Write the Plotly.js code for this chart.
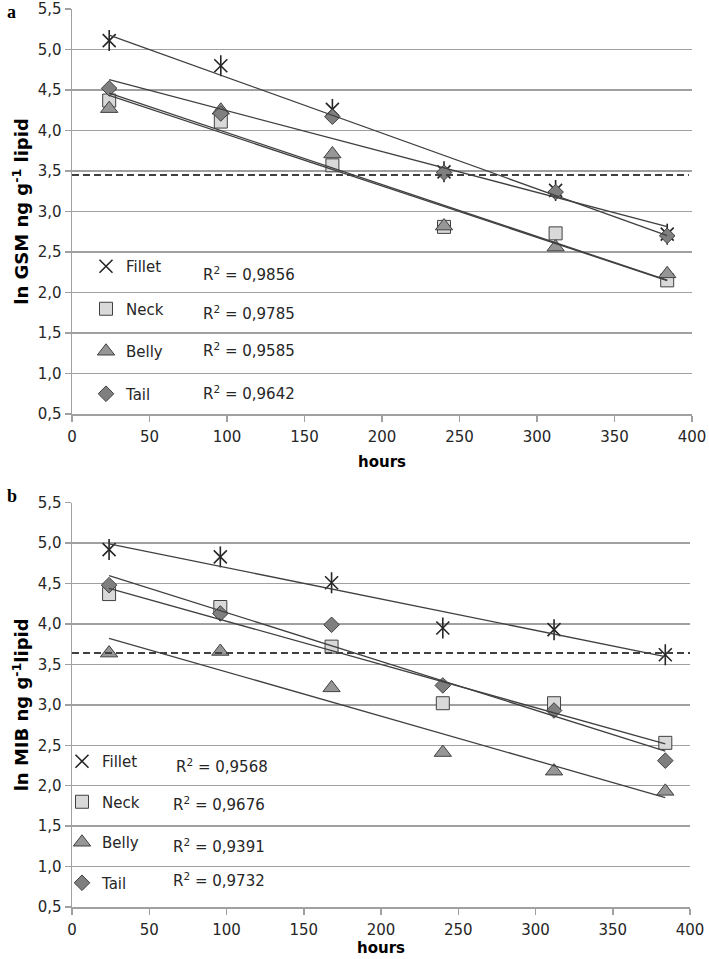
<!DOCTYPE html>
<html>
<head>
<meta charset="utf-8">
<script src="https://cdn.plot.ly/plotly-3.0.1.min.js"></script>
<style>html,body{margin:0;padding:0;background:#fff}#chart{width:709px;height:959px}</style>
</head>
<body>
<div id="chart"></div>
<script>
// ---- data ----
const hours = [24, 96, 168, 240, 312, 384];
const tissues = ["Fillet", "Neck", "Belly", "Tail"];

// panel a: ln GSM ng g-1 lipid
const gsmFillet = [5.11, 4.80, 4.26, 3.49, 3.26, 2.72];
const gsmNeck   = [4.37, 4.11, 3.57, 2.81, 2.73, 2.15];
const gsmBelly  = [4.27, 4.25, 3.71, 2.82, 2.56, 2.23];
const gsmTail   = [4.52, 4.21, 4.17, 3.48, 3.24, 2.70];
const gsmR2     = ["0,9856", "0,9785", "0,9585", "0,9642"];
const gsmThreshold = 3.45;

// panel b: ln MIB ng g-1 lipid
const mibFillet = [4.92, 4.83, 4.51, 3.95, 3.93, 3.62];
const mibNeck   = [4.37, 4.21, 3.72, 3.02, 3.02, 2.53];
const mibBelly  = [3.64, 3.66, 3.21, 2.41, 2.18, 1.93];
const mibTail   = [4.48, 4.13, 3.99, 3.24, 2.93, 2.31];
const mibR2     = ["0,9568", "0,9676", "0,9391", "0,9732"];
const mibThreshold = 3.64;

const yTicks = [0.5, 1.0, 1.5, 2.0, 2.5, 3.0, 3.5, 4.0, 4.5, 5.0, 5.5];
const xTicks = [0, 50, 100, 150, 200, 250, 300, 350, 400];

// ---- helpers ----
function fit(x, y) {
  const n = x.length;
  const mx = x.reduce((a, b) => a + b, 0) / n;
  const my = y.reduce((a, b) => a + b, 0) / n;
  let sxy = 0, sxx = 0;
  for (let i = 0; i < n; i++) { sxy += (x[i] - mx) * (y[i] - my); sxx += (x[i] - mx) ** 2; }
  const b = sxy / sxx, a = my - b * mx;
  const xs = [x[0], x[n - 1]];
  return { x: xs, y: xs.map(v => a + b * v) };
}

const T = 9, B = 52, H = 959 - T - B;
const px = p => 1 - (p - T) / H;      // page pixel (from top) -> paper y
const pxx = p => (p - 72) / 620;        // page pixel (from left) -> paper x

const FONT = "DejaVu Sans, Verdana, sans-serif";
const DARK = "#404040";
const INK = "#262626";
const styles = {
  Fillet: { symbol: "x-thin-open", size: 13, color: INK, line: { color: INK, width: 1.6 } },
  Neck:   { symbol: "square", size: 13, color: "#d9d9d9", line: { color: DARK, width: 1 } },
  Belly:  { symbol: "triangle-up", size: 15, color: "#969696", line: { color: DARK, width: 1 } },
  Tail:   { symbol: "diamond", size: 12, color: "#7f7f7f", line: { color: DARK, width: 1 } }
};

const traces = [];
function panel(series, xa, ya, legendName) {
  series.forEach((s, i) => {
    const name = tissues[i];
    if (name === "Fillet") {
      traces.push({ x: hours, y: s, xaxis: xa, yaxis: ya, mode: "markers", showlegend: false,
        hoverinfo: "skip",
        marker: { symbol: "line-ns-open", size: 15, color: INK, line: { color: INK, width: 1.6 } } });
    }
    traces.push({ x: hours, y: s, xaxis: xa, yaxis: ya, mode: "markers", name: name,
      legend: legendName, legendgroup: legendName + name, marker: styles[name] });
  });
  series.forEach((s) => {
    const f = fit(hours, s);
    traces.push({ x: f.x, y: f.y, xaxis: xa, yaxis: ya, mode: "lines", showlegend: false,
      line: { color: DARK, width: 1.3 }, hoverinfo: "skip" });
  });
}
panel([gsmFillet, gsmNeck, gsmBelly, gsmTail], "x", "y", "legend");
panel([mibFillet, mibNeck, mibBelly, mibTail], "x2", "y2", "legend2");

function xaxis(anchor, domEnd, standoff) {
  return {
    anchor: anchor, domain: [0, domEnd], range: [0, 400], tickvals: xTicks,
    showgrid: false, zeroline: false, showline: true, linecolor: "#a0a0a0", linewidth: 1.5,
    ticks: "outside", ticklen: 6, tickcolor: "#a0a0a0", tickwidth: 1.5, ticklabelstandoff: 2,
    ticklabeloverflow: "allow",
    tickfont: { family: FONT, size: 15, color: INK },
    title: { text: "hours", font: { family: FONT, size: 15, color: "#000", weight: "bold" }, standoff: standoff }
  };
}
function yaxis(anchor, dom, title) {
  return {
    anchor: anchor, domain: dom, range: [0.5, 5.5], tickvals: yTicks, tickformat: ".1f",
    showgrid: true, gridcolor: "#a0a0a0", gridwidth: 1.5, zeroline: false,
    showline: true, linecolor: "#a0a0a0", linewidth: 1.5,
    ticks: "outside", ticklen: 6, tickcolor: "#a0a0a0", tickwidth: 1.5,
    ticklabeloverflow: "allow",
    tickfont: { family: FONT, size: 15, color: INK },
    title: { text: title, font: { family: FONT, size: 18, color: "#000", weight: "bold" }, standoff: 4 }
  };
}

const legendBase = {
  font: { family: FONT, size: 15, color: INK }, bgcolor: "rgba(0,0,0,0)",
  xanchor: "left", yanchor: "top", itemwidth: 30
};

const annotations = [];
const gsmRY = [274, 313, 350, 393], mibRY = [766, 804, 846, 880];
gsmR2.forEach((r, i) => annotations.push({ xref: "paper", yref: "paper", x: pxx(201),
  y: px(gsmRY[i]), xanchor: "left", yanchor: "middle", showarrow: false,
  text: "R<sup>2</sup> = " + r, font: { family: FONT, size: 15, color: INK } }));
mibR2.forEach((r, i) => annotations.push({ xref: "paper", yref: "paper", x: pxx(i === 0 ? 174 : 171),
  y: px(mibRY[i]), xanchor: "left", yanchor: "middle", showarrow: false,
  text: "R<sup>2</sup> = " + r, font: { family: FONT, size: 15, color: INK } }));
annotations.push({ xref: "paper", yref: "paper", x: pxx(5), y: px(0),
  xanchor: "left", yanchor: "top", showarrow: false, text: "<b>a</b>",
  font: { family: "Liberation Serif, serif", size: 18, color: "#000" } });
annotations.push({ xref: "paper", yref: "paper", x: pxx(5), y: px(484),
  xanchor: "left", yanchor: "top", showarrow: false, text: "<b>b</b>",
  font: { family: "Liberation Serif, serif", size: 18, color: "#000" } });

const layout = {
  width: 709, height: 959,
  margin: { l: 72, r: 17, t: T, b: B },
  paper_bgcolor: "#fff", plot_bgcolor: "#fff",
  separators: ", ",
  showlegend: true,
  xaxis: xaxis("y", 1, 12),
  yaxis: yaxis("x", [1 - 405 / H, 1], "ln GSM ng g<sup>-1</sup> lipid"),
  xaxis2: xaxis("y2", 0.9968, 3),
  yaxis2: yaxis("x2", [0, px(502.7)], "ln MIB ng g<sup>-1</sup>lipid"),
  legend: Object.assign({}, legendBase, { x: pxx(86), y: px(250), tracegroupgap: 20 }),
  legend2: Object.assign({}, legendBase, { x: pxx(62), y: px(745), tracegroupgap: 18 }),
  shapes: [
    { type: "line", xref: "x", yref: "y", x0: 0, x1: 398, y0: gsmThreshold, y1: gsmThreshold,
      line: { color: DARK, width: 2, dash: "7px,4px" } },
    { type: "line", xref: "x2", yref: "y2", x0: 0, x1: 400, y0: mibThreshold, y1: mibThreshold,
      line: { color: DARK, width: 2, dash: "7px,4px" } }
  ],
  annotations: annotations
};

Plotly.newPlot("chart", traces, layout, { displayModeBar: false, staticPlot: true });
</script>
</body>
</html>
